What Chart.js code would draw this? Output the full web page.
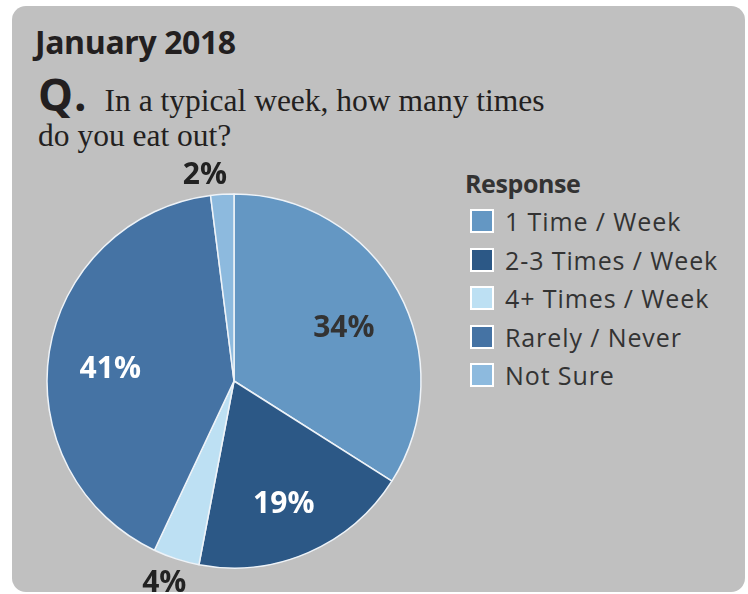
<!DOCTYPE html>
<html>
<head>
<meta charset="utf-8">
<script src="https://cdn.jsdelivr.net/npm/chart.js@4"></script>
<style>
  html, body { margin: 0; padding: 0; background: #fff; width: 748px; height: 594px; overflow: hidden; }
  .panel {
    position: absolute; left: 12px; top: 6px; width: 733px; height: 586px;
    background: #c0c0c0; border-radius: 14px;
  }
  .month {
    position: absolute; left: 35px; top: 20px;
    font: bold 32px "Open Sans", sans-serif; color: #231f20; letter-spacing: -0.4px;
  }
  .question {
    position: absolute; left: 38px; top: 83px; width: 660px;
    font: 31.5px "Liberation Serif", serif; color: #231f20; line-height: 35px;
  }
  .question b { font: bold 44px "Open Sans", sans-serif; line-height: 0; margin-right: 17px; letter-spacing: 1px; }
  #chartBox { position: absolute; left: 19px; top: 160px; }
  .legend {
    position: absolute; left: 465px; top: 166px;
    font: 25px "Open Sans", sans-serif; color: #333; letter-spacing: 0.9px;
  }
  .legend h4 { margin: 0 0 2px 0; font: bold 25px "Open Sans", sans-serif; color: #333; letter-spacing: -0.4px; height: 34px; line-height: 34px; }
  .legend div { height: 38.5px; display: flex; align-items: center; }
  .legend span.box {
    width: 20px; height: 20px; border: 2px solid #fff; margin: 0 11px 0 5px; box-sizing: content-box;
  }
</style>
</head>
<body>
<div class="panel"></div>
<div class="month">January 2018</div>
<div class="question"><b>Q.</b>In a typical week, how many times<br>do you eat out?</div>
<div id="chartBox"><canvas id="pieChart" width="430" height="442"></canvas></div>
<div class="legend" id="legend"><h4>Response</h4></div>

<script>
const responses = ['1 Time / Week', '2-3 Times / Week', '4+ Times / Week', 'Rarely / Never', 'Not Sure'];
const shares = [34, 19, 4, 41, 2];
const sliceColors = ['#6497c3', '#2c5886', '#bde0f3', '#4573a4', '#8dbade'];
const labelColors = ['#333333', '#ffffff', '#222222', '#ffffff', '#222222'];

// percent labels: inside the slice, or just past the rim for thin slices
const sliceLabels = {
  id: 'sliceLabels',
  afterDatasetsDraw(chart) {
    const ctx = chart.ctx;
    const meta = chart.getDatasetMeta(0);
    ctx.save();
    ctx.font = 'bold 30px "Open Sans", sans-serif';
    ctx.textAlign = 'center';
    ctx.textBaseline = 'middle';
    meta.data.forEach((arc, i) => {
      const p = arc.getProps(['x', 'y', 'startAngle', 'endAngle', 'outerRadius'], true);
      const mid = (p.startAngle + p.endAngle) / 2;
      const outside = shares[i] < 5;
      const r = p.outerRadius * (outside ? 1.12 : 0.67);
      const lx = p.x + Math.cos(mid) * r + (outside ? (Math.sin(mid) < 0 ? -16 : -5) : 0);
      const ly = p.y + Math.sin(mid) * r + (outside ? 3 : 8);
      ctx.fillStyle = labelColors[i];
      ctx.fillText(shares[i] + '%', lx, ly);
    });
    ctx.restore();
  }
};

const ctx = document.getElementById('pieChart').getContext('2d');
const pieChart = new Chart(ctx, {
  type: 'pie',
  data: {
    labels: responses,
    datasets: [{
      data: shares,
      backgroundColor: sliceColors,
      borderColor: '#eef3f8',
      borderWidth: 1.5
    }]
  },
  options: {
    responsive: false,
    animation: false,
    radius: 187,
    plugins: {
      legend: { display: false },
      tooltip: { enabled: false }
    }
  },
  plugins: [sliceLabels]
});

// legend rows from the chart's own labels/colors
const legendEl = document.getElementById('legend');
pieChart.data.labels.forEach((label, i) => {
  const row = document.createElement('div');
  const box = document.createElement('span');
  box.className = 'box';
  box.style.background = pieChart.data.datasets[0].backgroundColor[i];
  row.appendChild(box);
  row.appendChild(document.createTextNode(label));
  legendEl.appendChild(row);
});
</script>
</body>
</html>
